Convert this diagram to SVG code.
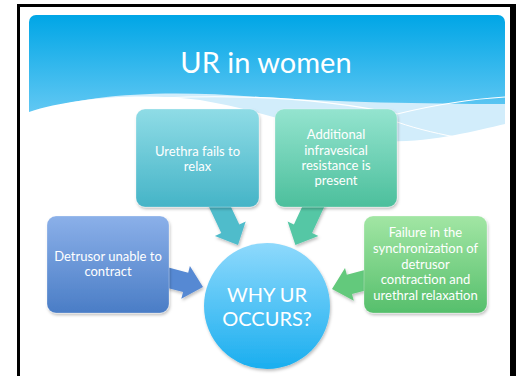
<svg xmlns="http://www.w3.org/2000/svg" width="516" height="376" viewBox="0 0 516 376">
<defs>
<linearGradient id="hdr" x1="0" y1="0" x2="0" y2="1">
<stop offset="0" stop-color="#00a6e6"/>
<stop offset="1" stop-color="#7fd2f7"/>
</linearGradient>
<linearGradient id="gTeal" x1="0" y1="0" x2="0" y2="1">
<stop offset="0" stop-color="#8fdce6"/>
<stop offset="1" stop-color="#45b4c7"/>
</linearGradient>
<linearGradient id="gSea" x1="0" y1="0" x2="0" y2="1">
<stop offset="0" stop-color="#94e4cf"/>
<stop offset="1" stop-color="#4cbf9c"/>
</linearGradient>
<linearGradient id="gBlue" x1="0" y1="0" x2="0" y2="1">
<stop offset="0" stop-color="#8bb0e9"/>
<stop offset="1" stop-color="#4a7dc6"/>
</linearGradient>
<linearGradient id="gGreen" x1="0" y1="0" x2="0" y2="1">
<stop offset="0" stop-color="#a2e6a4"/>
<stop offset="1" stop-color="#56bf6c"/>
</linearGradient>
<linearGradient id="gCirc" x1="0" y1="0" x2="0" y2="1">
<stop offset="0" stop-color="#8ed9fc"/>
<stop offset="1" stop-color="#1aaeef"/>
</linearGradient>
<filter id="sh" x="-10%" y="-10%" width="130%" height="130%">
<feDropShadow dx="1" dy="2" stdDeviation="1.5" flood-color="#000" flood-opacity="0.25"/>
</filter>
</defs>
<style>
.box{stroke:#ffffff;stroke-opacity:0.25;stroke-width:1;filter:url(#sh)}
.lbl{font-family:Lato,"Liberation Sans",sans-serif;font-size:13px;fill:#ffffff;text-anchor:middle}
.big{font-family:Lato,"Liberation Sans",sans-serif;font-size:20px;fill:#ffffff;text-anchor:middle}
.arr{filter:url(#sh)}
</style>
<rect x="0" y="0" width="516" height="376" fill="#ffffff"/>
<path d="M17 4 H516 V376 H17 Z M20 7 V376 H510 V7 Z" fill="#000000" fill-rule="evenodd"/>
<g id="header">
<rect x="29" y="15" width="476" height="127" rx="7" fill="url(#hdr)"/>
<path d="M29 142 V114 C90 92 170 90 260 97 C340 102 420 104 505 104 V142 Z" fill="#d2edfb"/>
<path d="M29 142 V112 C70 98 140 92 200 100 C260 110 310 130 360 140 C420 146 470 132 505 124 V142 Z" fill="#ffffff"/>
<path d="M160 98 C250 94 330 100 397 114 C430 106 470 99 505 97" fill="none" stroke="#ffffff" stroke-width="1.2"/>
<path d="M397 122 C420 130 440 134 465 139" fill="none" stroke="#ffffff" stroke-width="1"/>
<text x="266" y="73" font-family="Lato,'Liberation Sans',sans-serif" font-size="29" fill="#ffffff" text-anchor="middle">UR in women</text>
</g>
<g id="connectors">
<polygon class="arr" fill="#4fbccb" points="225.6,195.5 239.3,224.4 245.7,221.4 238,245 214.9,236 221.3,233 207.6,204.1"/>
<polygon class="arr" fill="#55c7a5" points="307.4,195.5 293.9,224.5 287.6,221.5 295.4,245 318.4,235.9 312.1,232.9 325.6,203.9"/>
<polygon class="arr" fill="#5689d3" points="157.2,264.6 188.2,272.7 189.9,266 203,287 181.3,298.8 183.1,292.1 152.1,284"/>
<polygon class="arr" fill="#64c97b" points="377.7,266.5 346.8,274.7 345,268 332,289 353.8,300.8 352,294 382.9,285.9"/>
</g>
<g id="n1">
<rect class="box" x="136" y="109" width="123" height="98" rx="9" fill="url(#gTeal)"/>
<text class="lbl" x="197.5" y="156">Urethra fails to</text>
<text class="lbl" x="197.5" y="171">relax</text>
</g>
<g id="n2">
<rect class="box" x="275" y="109" width="122" height="98" rx="9" fill="url(#gSea)"/>
<text class="lbl" x="336" y="139">Additional</text>
<text class="lbl" x="336" y="154.5">infravesical</text>
<text class="lbl" x="336" y="170">resistance is</text>
<text class="lbl" x="336" y="185">present</text>
</g>
<g id="n3">
<rect class="box" x="47" y="216" width="122" height="97" rx="9" fill="url(#gBlue)"/>
<text class="lbl" x="108" y="261">Detrusor unable to</text>
<text class="lbl" x="108" y="275.5">contract</text>
</g>
<g id="n4">
<rect class="box" x="364" y="216" width="123" height="97" rx="9" fill="url(#gGreen)"/>
<text class="lbl" x="425.5" y="237">Failure in the</text>
<text class="lbl" x="425.5" y="253">synchronization of</text>
<text class="lbl" x="425.5" y="268.5">detrusor</text>
<text class="lbl" x="425.5" y="284">contraction and</text>
<text class="lbl" x="425.5" y="300">urethral relaxation</text>
</g>
<g id="center">
<circle cx="267" cy="306" r="63" fill="url(#gCirc)" filter="url(#sh)"/>
<text class="big" x="267" y="302">WHY UR</text>
<text class="big" x="267" y="326">OCCURS?</text>
</g>
</svg>
